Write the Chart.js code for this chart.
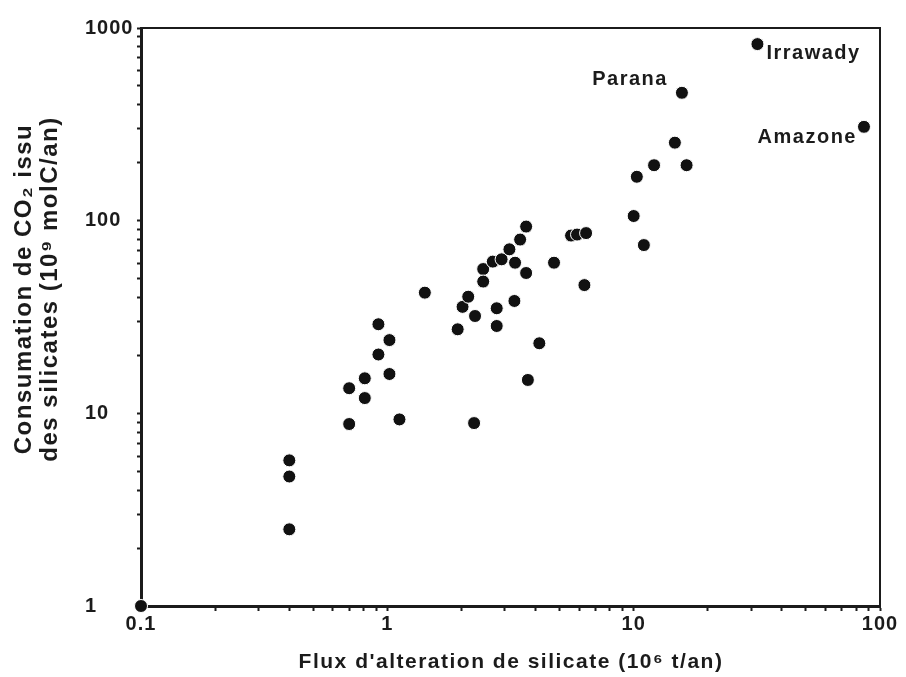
<!DOCTYPE html>
<html>
<head>
<meta charset="utf-8">
<script src="https://cdn.jsdelivr.net/npm/chart.js@4/dist/chart.umd.min.js"></script>
<style>
  body { margin: 0; background: #fff; }
  #wrap { width: 906px; height: 677px; }
</style>
</head>
<body>
<div id="wrap"><canvas id="fluxChart" width="906" height="677"></canvas></div>
<script>
// Flux d'alteration de silicate (10^6 t/an) vs consumation de CO2 (10^9 molC/an)
const fluxSilicate = [0.1, 0.40, 0.40, 0.40, 0.70, 0.70, 0.81, 0.81, 0.92, 0.92,
    1.02, 1.02, 1.12, 1.42, 1.93, 2.02, 2.13, 2.27, 2.25, 2.45,
    2.45, 2.68, 2.78, 2.78, 2.91, 3.13, 3.30, 3.28, 3.46, 3.66,
    3.66, 3.72, 4.14, 4.75, 5.57, 5.89, 6.41, 6.31, 10.0, 11.0,
    10.3, 12.1, 16.4, 14.7];
const co2Silicate = [1.0, 5.7, 4.7, 2.5, 13.5, 8.8, 15.2, 12.0, 29.0, 20.2,
    24.0, 16.0, 9.3, 42.3, 27.3, 35.7, 40.3, 32.0, 8.9, 56.1,
    48.3, 61.3, 35.1, 28.4, 63.0, 71.0, 60.5, 38.3, 79.8, 93.2,
    53.5, 14.9, 23.1, 60.5, 83.7, 84.7, 86.2, 46.3, 105.7, 74.7,
    169, 194, 194, 254];

// named rivers
const riverNames = ['Parana', 'Irrawady', 'Amazone'];
const riverFlux = [15.7, 31.8, 86.1];
const riverCO2 = [461, 825, 307];

const xTickLabels = [0.1, 1, 10, 100];
const yTickLabels = [1, 10, 100, 1000];

const FONT = '"Liberation Sans", Arial, sans-serif';
const INK = '#1b1b1b';

function isPow10(v, list) {
    return list.some(t => Math.abs(v - t) < t * 1e-6);
}

// keep 1..9 per decade only (drop the 1.5, 15 ... ticks)
function keepIntegerTicks(scale) {
    scale.ticks = scale.ticks.filter(t => {
        const m = t.value / Math.pow(10, Math.floor(Math.log10(t.value) + 1e-9));
        return Math.abs(m - Math.round(m)) < 1e-6;
    });
}

const points = [];
fluxSilicate.forEach((x, i) => points.push({ x: x, y: co2Silicate[i] }));
riverFlux.forEach((x, i) => points.push({ x: x, y: riverCO2[i] }));

const framePlugin = {
    id: 'frame',
    beforeDraw(chart) {
        chart.ctx.letterSpacing = '1px';
    },
    beforeDatasetsDraw(chart) {
        const { ctx, chartArea: a } = chart;
        ctx.save();
        ctx.strokeStyle = INK;
        ctx.lineWidth = 2;
        ctx.beginPath();
        ctx.moveTo(a.left, a.top);
        ctx.lineTo(a.right, a.top);
        ctx.lineTo(a.right, a.bottom);
        ctx.stroke();
        ctx.restore();
    },
    afterDraw(chart) {
        const ctx = chart.ctx;
        const xs = chart.scales.x;
        const ys = chart.scales.y;
        ctx.save();
        ctx.fillStyle = INK;
        ctx.letterSpacing = '1.5px';
        ctx.font = 'bold 21px ' + FONT;
        ctx.textBaseline = 'middle';

        // x title
        ctx.textAlign = 'center';
        ctx.fillText("Flux d'alteration de silicate (10\u2076 t/an)", 511, 662);

        // y title, two lines
        ctx.font = 'bold 24px ' + FONT;
        const midY = 289;
        ctx.save();
        ctx.translate(24, midY);
        ctx.rotate(-Math.PI / 2);
        ctx.fillText('Consumation de CO\u2082 issu', 0, 0);
        ctx.restore();
        ctx.save();
        ctx.translate(50, midY);
        ctx.rotate(-Math.PI / 2);
        ctx.fillText('des silicates (10\u2079 molC/an)', 0, 0);
        ctx.restore();

        // river names
        ctx.font = 'bold 20px ' + FONT;
        const offsets = {
            Parana: { dx: -14, dy: -13, align: 'right' },
            Irrawady: { dx: 9, dy: 9, align: 'left' },
            Amazone: { dx: -7, dy: 11, align: 'right' }
        };
        riverNames.forEach((name, i) => {
            const px = xs.getPixelForValue(riverFlux[i]);
            const py = ys.getPixelForValue(riverCO2[i]);
            const o = offsets[name];
            ctx.textAlign = o.align;
            ctx.fillText(name, px + o.dx, py + o.dy);
        });
        ctx.restore();
        ctx.letterSpacing = '0px';
    }
};

const ctx = document.getElementById('fluxChart').getContext('2d');
new Chart(ctx, {
    type: 'scatter',
    data: {
        datasets: [{
            data: points,
            backgroundColor: '#111',
            borderColor: '#fff',
            borderWidth: 1,
            pointRadius: 6.5,
            pointHoverRadius: 6.5,
            clip: false
        }]
    },
    options: {
        responsive: false,
        animation: false,
        devicePixelRatio: 1,
        events: [],
        layout: {
            autoPadding: false,
            padding: { left: 85, top: 28, right: 26, bottom: 0 }
        },
        plugins: {
            legend: { display: false },
            tooltip: { enabled: false }
        },
        scales: {
            x: {
                type: 'logarithmic',
                min: 0.1,
                max: 100,
                afterBuildTicks: keepIntegerTicks,
                afterFit: (scale) => { scale.height = 71; },
                border: { display: true, color: INK, width: 3 },
                grid: {
                    drawOnChartArea: false,
                    drawTicks: true,
                    tickLength: 5,
                    tickWidth: 2,
                    tickColor: INK
                },
                ticks: {
                    autoSkip: false,
                    maxRotation: 0,
                    padding: 1,
                    color: INK,
                    font: { family: FONT, size: 20, weight: 'bold' },
                    callback: (v) => isPow10(v, xTickLabels) ? String(v) : ''
                }
            },
            y: {
                type: 'logarithmic',
                min: 1,
                max: 1000,
                afterBuildTicks: keepIntegerTicks,
                afterFit: (scale) => { scale.width = 56; },
                border: { display: true, color: INK, width: 3 },
                grid: {
                    drawOnChartArea: false,
                    drawTicks: true,
                    tickLength: 4,
                    tickWidth: 2,
                    tickColor: INK
                },
                ticks: {
                    autoSkip: false,
                    crossAlign: 'far',
                    color: INK,
                    font: { family: FONT, size: 20, weight: 'bold' },
                    callback: (v) => isPow10(v, yTickLabels) ? String(v) : ''
                }
            }
        }
    },
    plugins: [framePlugin]
});
</script>
</body>
</html>
